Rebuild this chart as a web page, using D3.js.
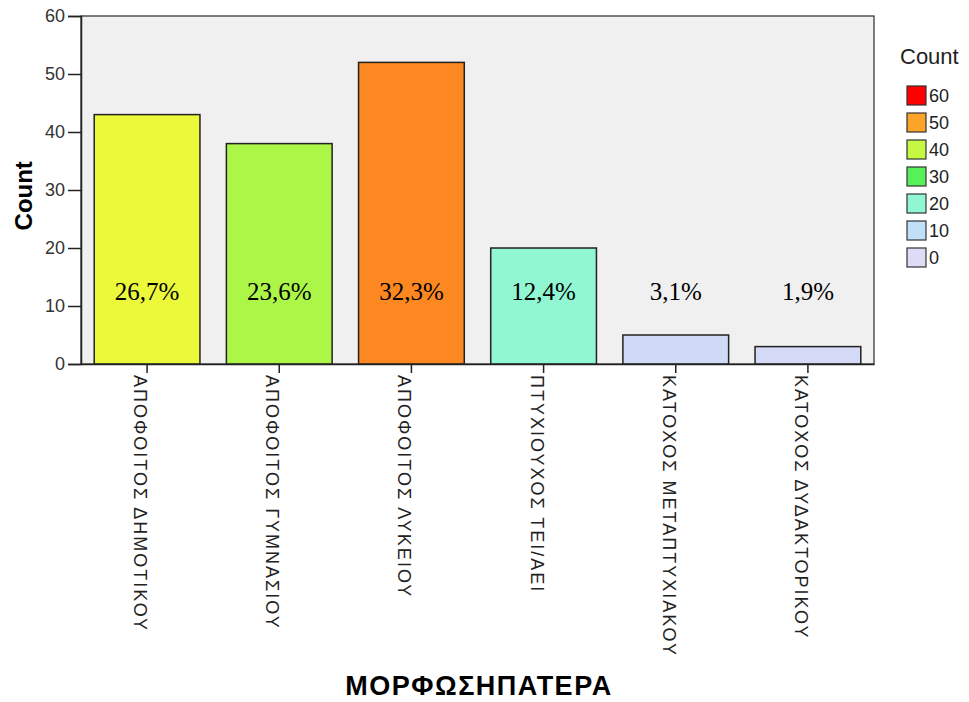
<!DOCTYPE html>
<html>
<head>
<meta charset="utf-8">
<script src="https://cdn.jsdelivr.net/npm/d3@7/dist/d3.min.js"></script>
<style>
  body { margin: 0; background: #fff; }
  svg { display: block; }
</style>
</head>
<body>
<svg id="chart" width="969" height="702"></svg>
<script>
"use strict";

// data
const categories = [
  "ΑΠΟΦΟΙΤΟΣ ΔΗΜΟΤΙΚΟΥ",
  "ΑΠΟΦΟΙΤΟΣ ΓΥΜΝΑΣΙΟΥ",
  "ΑΠΟΦΟΙΤΟΣ ΛΥΚΕΙΟΥ",
  "ΠΤΥΧΙΟΥΧΟΣ ΤΕΙ/ΑΕΙ",
  "ΚΑΤΟΧΟΣ ΜΕΤΑΠΤΥΧΙΑΚΟΥ",
  "ΚΑΤΟΧΟΣ ΔΥΔΑΚΤΟΡΙΚΟΥ"
];
const counts = [43, 38, 52, 20, 5, 3];
const percentLabels = ["26,7%", "23,6%", "32,3%", "12,4%", "3,1%", "1,9%"];
const yTicks = [0, 10, 20, 30, 40, 50, 60];
const legendValues = [60, 50, 40, 30, 20, 10, 0];
const colorStops = ["#dcdcf6", "#c0e0f8", "#90f7d2", "#58f058", "#c4f842", "#fca428", "#ff0000"];

const svg = d3.select("#chart");
const margin = { top: 16, right: 95, bottom: 338, left: 81 };
const width = 969 - margin.left - margin.right;
const height = 702 - margin.top - margin.bottom;

const x = d3.scaleBand()
  .domain(categories)
  .range([0, width])
  .paddingInner(0.2)
  .paddingOuter(0.1);

const y = d3.scaleLinear()
  .domain([0, 60])
  .range([height, 0]);

const color = d3.scaleLinear()
  .domain(yTicks)
  .range(colorStops)
  .interpolate(d3.interpolateHsl);

const g = svg.append("g")
  .attr("transform", "translate(" + margin.left + "," + margin.top + ")");

// plot background
g.append("rect")
  .attr("width", width)
  .attr("height", height)
  .attr("fill", "#f0f0f0")
  .attr("stroke", "#2a2a2a")
  .attr("stroke-width", 1.2);

// bars
g.selectAll("rect.bar")
  .data(counts)
  .enter().append("rect")
  .attr("class", "bar")
  .attr("x", (d, i) => x(categories[i]))
  .attr("y", d => y(d))
  .attr("width", x.bandwidth())
  .attr("height", d => y(0) - y(d))
  .attr("fill", d => color(d))
  .attr("stroke", "#222")
  .attr("stroke-width", 1.5);

// percent labels (fixed height inside the plot)
g.selectAll("text.pct")
  .data(percentLabels)
  .enter().append("text")
  .attr("class", "pct")
  .attr("x", (d, i) => x(categories[i]) + x.bandwidth() / 2)
  .attr("y", y(11))
  .attr("text-anchor", "middle")
  .style("font-family", "'Liberation Serif', 'Times New Roman', serif")
  .style("font-size", "25px")
  .attr("fill", "#000")
  .text(d => d);

// y axis
const yAxis = g.append("g")
  .call(d3.axisLeft(y).tickValues(yTicks).tickSize(13).tickPadding(3));
yAxis.select(".domain").attr("stroke", "#222").attr("stroke-width", 1.5);
yAxis.selectAll(".tick line").attr("stroke", "#222").attr("stroke-width", 1.5);
yAxis.selectAll(".tick text")
  .style("font-family", "'Liberation Sans', Arial, sans-serif")
  .style("font-size", "18px")
  .attr("fill", "#333");

// x axis
const xAxis = g.append("g")
  .attr("transform", "translate(0," + height + ")")
  .call(d3.axisBottom(x).tickSize(9).tickSizeOuter(0).tickPadding(0));
xAxis.select(".domain").attr("stroke", "#222").attr("stroke-width", 1.5);
xAxis.selectAll(".tick line").attr("stroke", "#222").attr("stroke-width", 1.5);
xAxis.selectAll(".tick text")
  .attr("transform", "translate(0,11) rotate(90)")
  .attr("x", 0)
  .attr("y", 0)
  .attr("dy", "0.72em")
  .attr("text-anchor", "start")
  .style("font-family", "'Liberation Sans', Arial, sans-serif")
  .style("font-size", "18px")
  .style("letter-spacing", "2px")
  .attr("fill", "#222");

// axis titles
svg.append("text")
  .attr("transform", "translate(32," + (margin.top + y(29)) + ") rotate(-90)")
  .attr("text-anchor", "middle")
  .style("font-family", "'Liberation Sans', Arial, sans-serif")
  .style("font-size", "24px")
  .style("font-weight", "bold")
  .text("Count");

svg.append("text")
  .attr("x", 479)
  .attr("y", 695)
  .attr("text-anchor", "middle")
  .style("font-family", "'Liberation Sans', Arial, sans-serif")
  .style("font-size", "27px")
  .style("font-weight", "bold")
  .style("letter-spacing", "1.5px")
  .text("ΜΟΡΦΩΣΗΠΑΤΕΡΑ");

// legend
const legend = svg.append("g").attr("transform", "translate(900,0)");
legend.append("text")
  .attr("x", 0)
  .attr("y", 64)
  .style("font-family", "'Liberation Sans', Arial, sans-serif")
  .style("font-size", "22px")
  .attr("fill", "#222")
  .text("Count");

const item = legend.selectAll("g.item")
  .data(legendValues)
  .enter().append("g")
  .attr("class", "item")
  .attr("transform", (d, i) => "translate(7," + (86 + i * 27) + ")");
item.append("rect")
  .attr("width", 19)
  .attr("height", 19)
  .attr("fill", d => color(d))
  .attr("stroke", "#333")
  .attr("stroke-width", 1.2);
item.append("text")
  .attr("x", 22)
  .attr("y", 16)
  .style("font-family", "'Liberation Sans', Arial, sans-serif")
  .style("font-size", "18px")
  .attr("fill", "#222")
  .text(d => d);
</script>
</body>
</html>
